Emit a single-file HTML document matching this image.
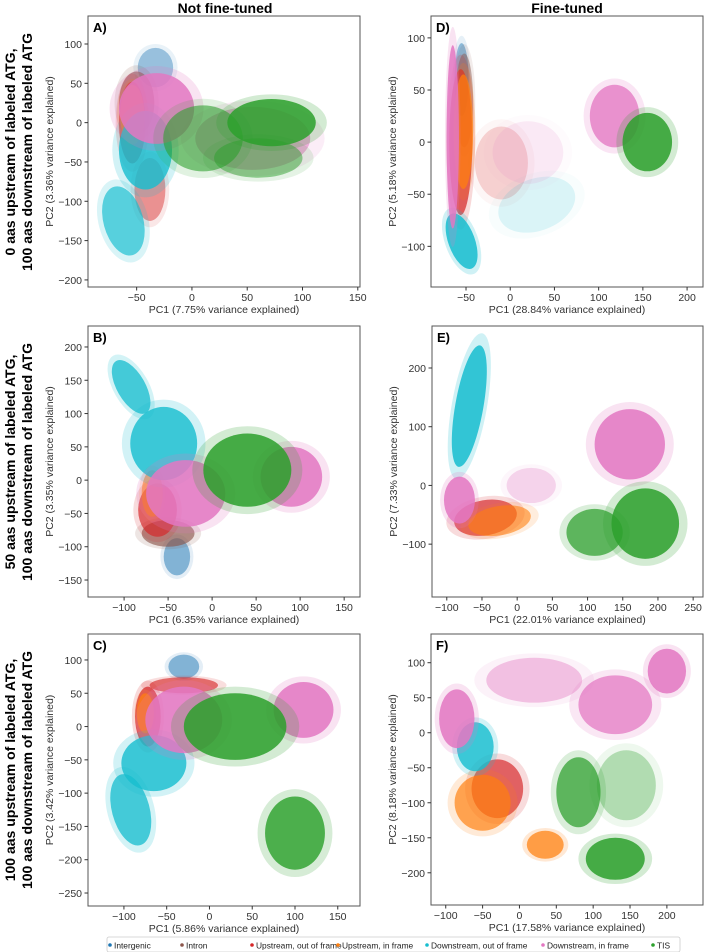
<!DOCTYPE html>
<html><head><meta charset="utf-8">
<style>
html,body{margin:0;padding:0;background:#fff;}
svg{display:block;font-family:"Liberation Sans",sans-serif;}
</style></head>
<body>
<svg id="fig" width="709" height="952" viewBox="0 0 709 952" xmlns="http://www.w3.org/2000/svg">
<text x="225" y="13" font-size="14" font-weight="bold" text-anchor="middle">Not fine-tuned</text>
<text x="567" y="13" font-size="14" font-weight="bold" text-anchor="middle">Fine-tuned</text>
<g font-size="14" font-weight="bold" text-anchor="middle">
<text transform="translate(15,152) rotate(-90)">0 aas upstream of labeled ATG,</text>
<text transform="translate(32,152) rotate(-90)">100 aas downstream of labeled ATG</text></g>
<g font-size="14" font-weight="bold" text-anchor="middle">
<text transform="translate(15,462) rotate(-90)">50 aas upstream of labeled ATG,</text>
<text transform="translate(32,462) rotate(-90)">100 aas downstream of labeled ATG</text></g>
<g font-size="14" font-weight="bold" text-anchor="middle">
<text transform="translate(15,770) rotate(-90)">100 aas upstream of labeled ATG,</text>
<text transform="translate(32,770) rotate(-90)">100 aas downstream of labeled ATG</text></g>
<g id="panels"></g>
<g>
<rect x="107" y="937" width="573" height="15" fill="#fff" stroke="#ccc" stroke-width="0.8" rx="2"/>
<g id="legend-items"></g>
</g>
</svg>
<script>
const seriesNames = ["Intergenic","Intron","Upstream, out of frame","Upstream, in frame","Downstream, out of frame","Downstream, in frame","TIS"];
const seriesColors = ["#1f77b4","#8c564b","#d62728","#ff7f0e","#17becf","#e377c2","#2ca02c"];
// blobs: [series, cx, cy, rx, ry, angleDeg, opacity]
const blobsA = [[0,-33,70,16,25,0,0.45],[1,-50,25,16,40,0,0.7],[2,-54,0,12,52,0,0.8],[2,-38,-85,14,40,0,0.5],[3,-54,10,11,38,0,0.8],[4,-42,-35,24,50,0,0.9],[4,-62,-125,18,45,-15,0.75],[5,-32,18,34,45,0,0.95],[5,55,-20,52,40,0,0.6],[6,10,-20,36,42,0,0.65],[6,72,0,40,30,0,0.95],[6,60,-45,40,25,0,0.55]];
const blobsD = [[0,-55,60,8,35,0,0.5],[1,-52,40,10,45,0,0.5],[2,-56,0,13,70,0,0.8],[3,-53,10,11,55,0,0.8],[4,-55,-95,15,28,-20,0.95],[5,-65,5,7,88,0,0.95],[2,-10,-20,30,35,0,0.2],[5,20,-10,40,30,0,0.15],[4,30,-60,45,25,-20,0.15],[5,118,25,28,30,0,0.85],[6,155,0,28,28,0,0.95]];
const blobsB = [[0,-40,-115,15,28,0,0.55],[1,-50,-80,30,20,0,0.7],[2,-62,-45,22,40,0,0.75],[3,-68,-20,12,35,0,0.65],[4,-92,140,16,45,-30,0.85],[4,-55,55,38,55,0,0.9],[5,-30,-20,45,50,0,0.95],[5,90,5,35,45,0,0.95],[6,40,15,50,55,0,0.95]];
const blobsE = [[4,-68,135,20,105,10,0.95],[2,-45,-55,45,30,-10,0.75],[3,-25,-60,45,25,-10,0.65],[5,-82,-25,22,40,0,0.95],[5,20,0,35,30,0,0.3],[5,160,70,50,60,0,0.95],[6,110,-80,40,40,0,0.8],[6,182,-65,48,60,0,0.95]];
const blobsC = [[0,-30,90,18,18,0,0.55],[2,-72,15,15,45,0,0.8],[3,-75,20,10,30,0,0.8],[2,-30,62,40,12,0,0.7],[4,-92,-125,22,55,-15,0.85],[4,-65,-55,38,42,0,0.9],[5,-30,10,45,50,0,0.95],[5,110,25,35,42,0,0.95],[6,30,0,60,50,0,0.95],[6,100,-160,35,55,0,0.9]];
const blobsF = [[5,20,75,65,32,0,0.45],[5,130,40,50,42,0,0.8],[5,200,88,26,32,0,0.95],[2,-30,-80,35,42,0,0.75],[3,-50,-100,38,40,0,0.75],[3,35,-160,25,20,0,0.8],[4,-60,-20,25,35,0,0.9],[5,-85,20,24,42,0,0.95],[6,80,-85,30,50,0,0.8],[6,145,-75,40,50,0,0.35],[6,130,-180,40,30,0,0.95]];
const ticksAx=[-50,0,50,100,150], ticksAy=[100,50,0,-50,-100,-150,-200];
const ticksDx=[-50,0,50,100,150,200], ticksDy=[100,50,0,-50,-100];
const ticksBx=[-100,-50,0,50,100,150], ticksBy=[200,150,100,50,0,-50,-100,-150];
const ticksEx=[-100,-50,0,50,100,150,200,250], ticksEy=[200,100,0,-100];
const ticksCx=[-100,-50,0,50,100,150], ticksCy=[100,50,0,-50,-100,-150,-200,-250];
const ticksFx=[-100,-50,0,50,100,150,200], ticksFy=[100,50,0,-50,-100,-150,-200];
const xLabels=["PC1 (7.75% variance explained)","PC1 (28.84% variance explained)","PC1 (6.35% variance explained)","PC1 (22.01% variance explained)","PC1 (5.86% variance explained)","PC1 (17.58% variance explained)"];
const yLabels=["PC2 (3.36% variance explained)","PC2 (5.18% variance explained)","PC2 (3.35% variance explained)","PC2 (7.33% variance explained)","PC2 (3.42% variance explained)","PC2 (8.18% variance explained)"];

const NS="http://www.w3.org/2000/svg";
function mk(tag,attrs,parent){const e=document.createElementNS(NS,tag);for(const k in attrs)e.setAttribute(k,attrs[k]);if(parent)parent.appendChild(e);return e;}
const layout=[
 {id:"A",blobs:blobsA,tx:ticksAx,ty:ticksAy,box:[88,16,360,287],dom:[-94,152,-209,135.6]},
 {id:"D",blobs:blobsD,tx:ticksDx,ty:ticksDy,box:[431,16,703,287],dom:[-89.6,218,-139,121]},
 {id:"B",blobs:blobsB,tx:ticksBx,ty:ticksBy,box:[88,326,360,597],dom:[-141,168,-175.5,231.5]},
 {id:"E",blobs:blobsE,tx:ticksEx,ty:ticksEy,box:[432,326,703,597],dom:[-121,264,-190,271.5]},
 {id:"C",blobs:blobsC,tx:ticksCx,ty:ticksCy,box:[88,634,360,906],dom:[-142,176,-269.5,139]},
 {id:"F",blobs:blobsF,tx:ticksFx,ty:ticksFy,box:[431,634,703,905],dom:[-120,249,-246,141]}];
const root=document.getElementById("panels");
layout.forEach((p,i)=>{
 const [x0,y0,x1,y1]=p.box,[dx0,dx1,dy0,dy1]=p.dom;
 const sx=v=>x0+(v-dx0)/(dx1-dx0)*(x1-x0);
 const sy=v=>y1-(v-dy0)/(dy1-dy0)*(y1-y0);
 const g=mk("g",{},root);
 
 
 const clipId="clip"+p.id;
 const cp=mk("clipPath",{id:clipId},g);mk("rect",{x:x0,y:y0,width:x1-x0,height:y1-y0},cp);
 const pg=mk("g",{"clip-path":"url(#"+clipId+")"},g);
 const sorted=p.blobs.slice().sort((a,b)=>a[0]-b[0]);
 sorted.forEach(b=>{
  const [s,cx,cy,rx,ry,ang,op]=b;
  const px=sx(cx),py=sy(cy),prx=Math.abs(sx(cx+rx)-px),pry=Math.abs(sy(cy+ry)-py);
  const halo=mk("ellipse",{cx:px,cy:py,rx:prx*1.25,ry:pry*1.2,fill:seriesColors[s],opacity:op*0.22,transform:`rotate(${ang} ${px} ${py})`},pg);
  
  
  const core=mk("ellipse",{cx:px,cy:py,rx:prx,ry:pry,fill:seriesColors[s],opacity:op*0.9,transform:`rotate(${ang} ${px} ${py})`},pg);
  
  
 });
 mk("rect",{x:x0,y:y0,width:x1-x0,height:y1-y0,fill:"none",stroke:"#555",'stroke-width':1},g);
 const lab=mk("text",{x:x0+5,y:y0+16,'font-size':13,'font-weight':'bold'},g);lab.textContent=p.id+")";
 
 
 p.tx.forEach(v=>{const X=sx(v);mk("line",{x1:X,x2:X,y1:y1,y2:y1+3.5,stroke:"#333"},g);
  const t=mk("text",{x:X,y:y1+14,'font-size':10.5,'text-anchor':'middle',fill:'#333'},g);t.textContent=(v<0?"\u2212"+(-v):v);
  
  });
 p.ty.forEach(v=>{const Y=sy(v);mk("line",{x1:x0-3.5,x2:x0,y1:Y,y2:Y,stroke:"#333"},g);
  const t=mk("text",{x:x0-6,y:Y+4,'font-size':10.5,'text-anchor':'end',fill:'#333'},g);t.textContent=(v<0?"\u2212"+(-v):v);
  
  });
 const xl=mk("text",{x:(x0+x1)/2,y:y1+26,'font-size':10.5,'text-anchor':'middle',fill:'#333'},g);xl.textContent=xLabels[i];
 
 
 const ylx=x0-35;
 const yl=mk("text",{transform:`translate(${ylx},${(y0+y1)/2}) rotate(-90)`,'font-size':10.5,'text-anchor':'middle',fill:'#333'},g);yl.textContent=yLabels[i];
 
 
});
const li=document.getElementById("legend-items");
const legendX=[110,182,252,338,427,543,653];
seriesNames.forEach((n,i)=>{
 const gg=mk("g",{},li);
 
 
 mk("circle",{cx:legendX[i],cy:945,r:1.8,fill:seriesColors[i]},gg);
 const t=mk("text",{x:legendX[i]+4,y:948.5,'font-size':8.4,fill:'#222'},gg);t.textContent=n;
});
</script>
</body></html>
